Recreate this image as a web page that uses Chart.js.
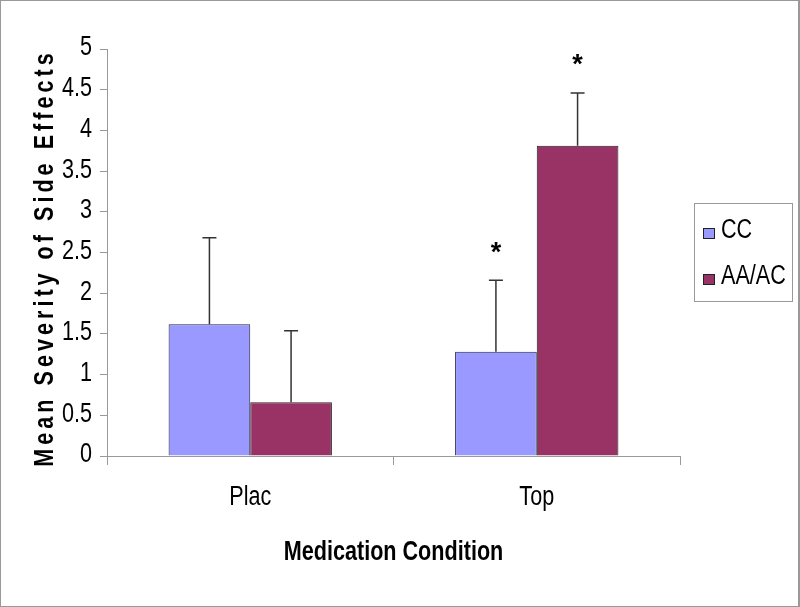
<!DOCTYPE html>
<html>
<head>
<meta charset="utf-8">
<script src="https://cdn.jsdelivr.net/npm/chart.js@4"></script>
<style>
  html, body { margin: 0; padding: 0; background: #fff; }
  #wrap { position: relative; width: 800px; height: 607px; box-sizing: border-box; border: 1px solid #999; border-right-width: 2px; }
  canvas { position: absolute; left: -1px; top: -1px; }
</style>
</head>
<body>
<div id="wrap"><canvas id="myChart" width="800" height="607"></canvas></div>
<script>
// data
let conditions = ['Plac', 'Top'];
let ccMeans = [1.62, 1.28];
let ccErrors = [1.06, 0.88];
let aaMeans = [0.66, 3.81];
let aaErrors = [0.88, 0.65];
let ccStars = [false, true];
let aaStars = [false, true];
let yTicks = [0, 0.5, 1, 1.5, 2, 2.5, 3, 3.5, 4, 4.5, 5];

let yTitle = 'Mean Severity of Side Effects';
let xTitle = 'Medication Condition';

// the original uses a narrow font, so squeeze Liberation Sans sideways
function narrowText(ctx, text, x, y, size, bold, align) {
    ctx.save();
    ctx.translate(x, y);
    ctx.scale(0.8, 1);
    ctx.fillStyle = '#000';
    ctx.font = (bold ? 'bold ' : '') + size + 'px "Liberation Sans", Arial, sans-serif';
    ctx.textAlign = align;
    ctx.textBaseline = 'middle';
    ctx.fillText(text, 0, 0);
    ctx.restore();
}

// error bars (upper only) and the asterisks
let errorBarPlugin = {
    id: 'errorBars',
    afterDatasetsDraw(chart) {
        let ctx = chart.ctx;
        let yScale = chart.scales.y;
        let errs = [ccErrors, aaErrors];
        let stars = [ccStars, aaStars];
        ctx.save();
        for (let d = 0; d < chart.data.datasets.length; d++) {
            let meta = chart.getDatasetMeta(d);
            let values = chart.data.datasets[d].data;
            meta.data.forEach((bar, i) => {
                let top = yScale.getPixelForValue(values[i] + errs[d][i]);
                ctx.strokeStyle = '#333';
                ctx.lineWidth = 1.5;
                ctx.beginPath();
                ctx.moveTo(bar.x, bar.y);
                ctx.lineTo(bar.x, top);
                ctx.moveTo(bar.x - 7, top);
                ctx.lineTo(bar.x + 7, top);
                ctx.stroke();
                if (stars[d][i]) {
                    ctx.fillStyle = '#000';
                    ctx.font = 'bold 27px "Liberation Sans", Arial, sans-serif';
                    ctx.textAlign = 'center';
                    ctx.textBaseline = 'middle';
                    ctx.fillText('*', bar.x, top - 27);
                }
            });
        }
        ctx.restore();
    }
};

// tick labels, titles and the boxed legend
let textPlugin = {
    id: 'texts',
    afterDraw(chart) {
        let ctx = chart.ctx;
        let xs = chart.scales.x;
        let ys = chart.scales.y;

        yTicks.forEach(v => {
            narrowText(ctx, String(v), 92, ys.getPixelForValue(v) - 1, 27, false, 'right');
        });
        conditions.forEach((c, i) => {
            narrowText(ctx, c, xs.getPixelForValue(i), 498, 27, false, 'center');
        });
        narrowText(ctx, xTitle, (chart.chartArea.left + chart.chartArea.right) / 2, 553, 27, true, 'center');

        ctx.save();
        ctx.translate(53, 258);
        ctx.rotate(-Math.PI / 2);
        ctx.scale(0.8, 1);
        ctx.fillStyle = '#000';
        ctx.font = 'bold 27px "Liberation Sans", Arial, sans-serif';
        ctx.letterSpacing = '5px';
        ctx.textAlign = 'center';
        ctx.textBaseline = 'alphabetic';
        ctx.fillText(yTitle, 0, 0);
        ctx.restore();

        ctx.save();
        ctx.strokeStyle = '#999';
        ctx.lineWidth = 1;
        ctx.strokeRect(694.5, 203.5, 98, 98);
        chart.data.datasets.forEach((ds, i) => {
            let y = 231 + i * 46;
            ctx.fillStyle = ds.backgroundColor;
            ctx.fillRect(703, y - 3, 12, 11);
            ctx.strokeStyle = '#222';
            ctx.strokeRect(703.5, y - 2.5, 11, 10);
            narrowText(ctx, ds.label, 721, y, 27, false, 'left');
        });
        ctx.restore();
    }
};

let ctx = document.getElementById('myChart').getContext('2d');
let myChart = new Chart(ctx, {
    type: 'bar',
    data: {
        labels: conditions,
        datasets: [{
            label: 'CC',
            data: ccMeans,
            backgroundColor: '#9999FF',
            borderColor: '#22224a',
            borderWidth: 1
        },
        {
            label: 'AA/AC',
            data: aaMeans,
            backgroundColor: '#993366',
            borderColor: '#222',
            borderWidth: 1
        }]
    },
    plugins: [errorBarPlugin, textPlugin],
    options: {
        responsive: false,
        animation: false,
        layout: { padding: { top: 49, right: 120, left: 0, bottom: 0 } },
        datasets: { bar: { categoryPercentage: 0.57, barPercentage: 1.0 } },
        plugins: { legend: { display: false }, tooltip: { enabled: false } },
        scales: {
            x: {
                grid: { offset: true, drawOnChartArea: false, tickLength: 9, color: '#999' },
                border: { color: '#999' },
                ticks: { display: false },
                afterFit(scale) { scale.height = 151; }
            },
            y: {
                min: 0, max: 5,
                afterBuildTicks(scale) { scale.ticks = yTicks.map(v => ({ value: v })); },
                grid: { drawOnChartArea: false, tickLength: 7, color: '#999' },
                border: { color: '#999' },
                ticks: { display: false },
                afterFit(scale) { scale.width = 107; }
            }
        }
    }
});
</script>
</body>
</html>
